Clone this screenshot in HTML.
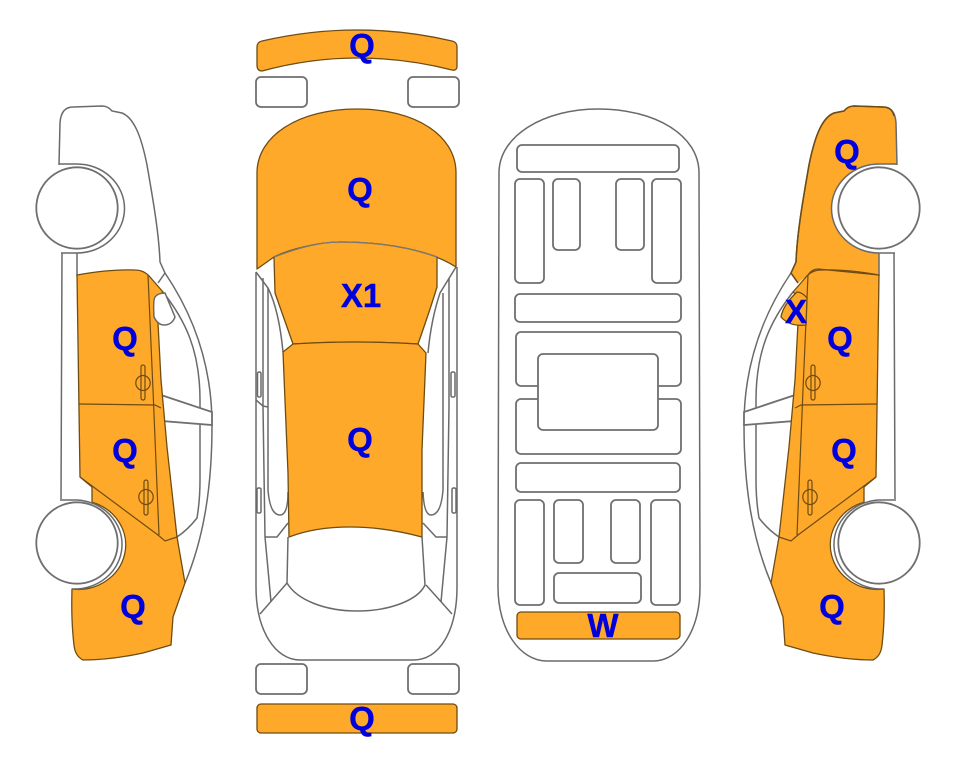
<!DOCTYPE html>
<html><head><meta charset="utf-8"><style>
html,body{margin:0;padding:0;background:#fff}
svg{display:block}
text{font-family:"Liberation Sans",sans-serif;font-weight:bold;font-size:33px;fill:#0000dc;text-anchor:middle;stroke:#0000dc;stroke-width:.4}
.g{fill:none;stroke:#6a6a6a;stroke-width:1.5}
.w{fill:#fff;stroke:#6f6f6f;stroke-width:1.8}
.o{fill:#ffa92b;stroke:#6e4c12;stroke-width:1.3;stroke-linejoin:round}
.d{fill:none;stroke:#6e4c12;stroke-width:1.2}
</style></head><body>
<svg width="963" height="768" viewBox="0 0 963 768" xmlns="http://www.w3.org/2000/svg">
<defs>
<g id="side">
  <path class="g" d="M59 165 L60 123 Q61 107 73 107 L102 106 Q108 106 112 111 L122 113 C135 118 142 140 147 165 C154 205 159 235 160 262 L165 273 C190 310 212 360 212 425 C212 490 203 540 185 583"/>
  <path class="g" d="M165 273 L158 283"/>
  <path class="g" d="M62 253 L61 501 M77 253 L77 276"/>
  <path class="g" d="M59 164 L77 164 A47.5 44.5 0 0 1 77 253 L61 253"/>
  <path class="g" d="M163 292 C185 320 200 350 200 400 L200 480 C200 500 198 512 197 518 C190 527 183 533 177 537"/>
  <path class="w" stroke-width="1.5" d="M161 395 L212 412 L212 425 L162 421 Z"/>
  <path class="o" d="M77 275 Q110 269 135 270 Q144 270 150 277 L163 292 L157 297 L158 323 L161 380 L167 447 L177 537 L185 583 L173 617 L171 645 L143 653 Q110 660 83 660 Q75 656 74 645 Q71 620 72 589 A47.5 44.5 0 0 0 92 502.300 L92 487 L80 477 Z"/>
  <path class="d" d="M80 477 L158 535 L165 541 L177 537"/>
  <path class="d" d="M79 404 L155 405 L161 408"/>
  <path class="d" d="M148 275 L153 390 L159 535"/>
  <path class="g" d="M62 500 L77 500 A47.5 44.5 0 0 1 72 589"/>
  <ellipse class="d" cx="143" cy="383" rx="7.200" ry="7.500"/>
  <rect class="d" x="141" y="365" width="4" height="35" rx="2"/>
  <ellipse class="d" cx="146" cy="497" rx="7.200" ry="7.500"/>
  <rect class="d" x="144" y="480" width="4" height="35" rx="2"/>
  <circle class="w" cx="77" cy="208" r="40.700"/>
  <circle class="w" cx="77" cy="543" r="40.700"/>
</g>
</defs>

<!-- left side -->
<use href="#side"/>
<path class="g" fill="#fff" style="fill:#fff" d="M155 297 Q153 300 154 317 Q158 325 164 325 Q172 325 175 317 L165 293 Q158 293 155 297Z"/>

<!-- right side -->
<path fill="#ffa92b" d="M791 273 L796 262 C797 235 802 205 809 165 C814 140 821 118 834 113 L844 111 Q848 106 854 106 L883 107 Q895 107 896 123 L897 165 L879 164 A47.5 44.5 0 0 0 879 253 L879 276 L818 269 Q812 269 808 275 L798 283 Z"/>
<use href="#side" transform="translate(956 0) scale(-1 1)"/>
<path class="d" stroke-width="1.500" style="stroke-width:1.500" d="M798 283 L791 273 L796 262 C797 235 802 205 809 165 C814 140 821 118 834 113 L844 111 Q848 106 854 106 L883 107 Q892 107 894 116"/>
<path class="d" d="M808 275 Q812 269 818 269 L879 275"/>
<path class="o" d="M797 292 Q802 292 807 298 L806 325 Q790 327 781 317 Q783 305 797 292Z"/>

<!-- front view -->
<path class="o" d="M257 47 Q257 42 262 41 Q310 30 357 30 Q405 30 452 41 Q457 42 457 47 L457 66 Q457 71 452 70 Q405 58 357 58 Q310 58 262 71 Q257 71 257 65 Z"/>
<rect class="w" x="256" y="77" width="51" height="30" rx="5"/>
<rect class="w" x="408" y="77" width="51" height="30" rx="5"/>

<!-- top view body -->
<path class="g" d="M256 272 L256 587 C256 630 275 660 300 660 L413 660 C440 660 457 630 457 587 L457 267"/>
<path class="g" d="M263 278 L263 407 L265 537 L271 602 M268 288 L268 490 Q270 515 280 515 Q288 515 288 492"/>
<path class="g" d="M449 278 L449 407 L447 537 L441 602 M443 293 L443 490 Q441 515 431 515 Q424 515 423 492"/>
<path class="g" d="M256 272 L268 288 Q279 310 283 352 M456 267 L440 293 Q431 320 428 353"/>
<path class="g" d="M256 400 L263 406 L268 407 M265 537 L277 537 L288 523 M447 537 L436 537 L423 523"/>
<path class="g" d="M288 537 L287 583 C297 600 325 611 357 611 C390 611 418 600 425 585 L422 537"/>
<path class="g" d="M287 583 L260 614 M426 585 L452 614"/>
<rect class="g" x="257.500" y="372" width="3.500" height="25" rx="1.500"/>
<rect class="g" x="257" y="488" width="4" height="25" rx="1.500"/>
<rect class="g" x="451" y="372" width="4" height="25" rx="1.500"/>
<rect class="g" x="452" y="488" width="4" height="25" rx="1.500"/>

<path class="o" d="M257 173 C257 135 300 109 357 109 C415 109 456 135 456 173 L456 267 C430 250 385 242 340 242 C315 243 290 249 274 257 L257 269 Z"/>
<path class="o" d="M274 257 C300 247 320 242 340 242 C385 242 415 249 437 257 L437 287 Q430 310 418 344 Q355 340 293 344 L275 293 Z"/>
<path class="o" d="M293 344 Q355 340 418 344 L426 353 L422 450 L422 537 Q385 527 350 527 Q315 527 289 537 L288 473 L283 352 Z"/>
<path fill="none" stroke="#7b7b7b" stroke-width="1.200" d="M274 257 C300 247 320 242 340 242 C385 242 415 249 437 257"/>

<rect class="w" x="256" y="664" width="51" height="30" rx="5"/>
<rect class="w" x="408" y="664" width="51" height="30" rx="5"/>
<rect class="o" x="257" y="704" width="200" height="29" rx="4"/>

<!-- underside -->
<path class="g" d="M499 173 C499 135 545 109 598 109 C655 109 699 135 699 173 L700 587 C700 630 680 661 653 661 L547 661 C520 661 498 630 498 587 Z"/>
<rect class="w" x="517" y="145" width="162" height="27" rx="5"/>
<rect class="w" x="515" y="179" width="29" height="104" rx="5"/>
<rect class="w" x="553" y="179" width="27" height="71" rx="5"/>
<rect class="w" x="616" y="179" width="28" height="71" rx="5"/>
<rect class="w" x="652" y="179" width="29" height="104" rx="5"/>
<rect class="w" x="515" y="294" width="166" height="28" rx="5"/>
<rect class="w" x="516" y="332" width="165" height="54" rx="5"/>
<rect class="w" x="516" y="399" width="165" height="55" rx="5"/>
<rect class="w" x="538" y="354" width="120" height="76" rx="5"/>
<rect class="w" x="516" y="463" width="164" height="29" rx="5"/>
<rect class="w" x="515" y="500" width="29" height="105" rx="5"/>
<rect class="w" x="554" y="500" width="29" height="63" rx="5"/>
<rect class="w" x="611" y="500" width="29" height="63" rx="5"/>
<rect class="w" x="651" y="500" width="29" height="105" rx="5"/>
<rect class="w" x="554" y="573" width="87" height="30" rx="5"/>
<rect class="o" x="517" y="612" width="163" height="27" rx="4"/>

<!-- labels -->
<text x="125" y="350">Q</text>
<text x="125" y="462">Q</text>
<text x="133" y="618">Q</text>
<text x="362" y="57">Q</text>
<text x="360" y="201">Q</text>
<text x="361" y="307">X1</text>
<text x="360" y="451">Q</text>
<text x="362" y="730">Q</text>
<text x="603" y="637">W</text>
<text x="847" y="163">Q</text>
<text x="796" y="323">X</text>
<text x="840" y="350">Q</text>
<text x="844" y="462">Q</text>
<text x="832" y="618">Q</text>
</svg>
</body></html>
